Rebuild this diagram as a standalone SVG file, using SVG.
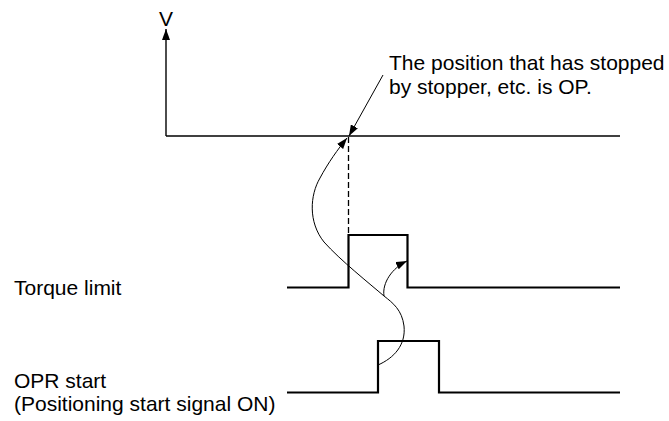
<svg xmlns="http://www.w3.org/2000/svg" width="669" height="421" viewBox="0 0 669 421">
<style>
text{font-family:"Liberation Sans",Arial,sans-serif;font-size:21px;fill:#000}
.axis{stroke:#000;stroke-width:1.4;fill:none}
.sig{stroke:#000;stroke-width:2.2;fill:none}
.thin{stroke:#000;stroke-width:1;fill:none}
.dash{stroke:#000;stroke-width:1.3;fill:none;stroke-dasharray:6 3}
</style>
<defs>
<marker id="ah" markerUnits="userSpaceOnUse" markerWidth="11" markerHeight="8" refX="11" refY="4" orient="auto">
<path d="M0,0 L11,4 L0,8 z" fill="#000"/>
</marker>
</defs>
<rect width="669" height="421" fill="#fff"/>
<g id="axis">
<line class="axis" x1="166" y1="136" x2="166" y2="29" marker-end="url(#ah)"/>
<line class="axis" x1="166" y1="136" x2="620" y2="136"/>
<text x="166" y="26" text-anchor="middle">V</text>
</g>
<g id="op-note">
<text x="389" y="70">The position that has stopped</text>
<text x="389" y="94">by stopper, etc. is OP.</text>
</g>
<g id="torque">
<text x="14" y="295">Torque limit</text>
<path class="sig" d="M287,287.5 H348.5 V235 H407.5 V287.5 H620"/>
</g>
<g id="opr">
<text x="14" y="388">OPR start</text>
<text x="14" y="411">(Positioning start signal ON)</text>
<path class="sig" d="M287,392.5 H378 V341 H439 V392.5 H620"/>
</g>
<g id="connectors">
<line class="thin" x1="383" y1="75" x2="349" y2="136" marker-end="url(#ah)"/>
<line class="dash" x1="348.5" y1="137" x2="348.5" y2="234"/>
<path class="thin" d="M378,365 C394,358 406,345 404,326 C402,310 393,303 384,296 C370,284 340,260 324,242 C308,222 310,195 320,178 C328,163 338,149 347,138" marker-end="url(#ah)"/>
<path class="thin" d="M384,296 C382,283 392,268 407,261" marker-end="url(#ah)"/>
</g>
</svg>
